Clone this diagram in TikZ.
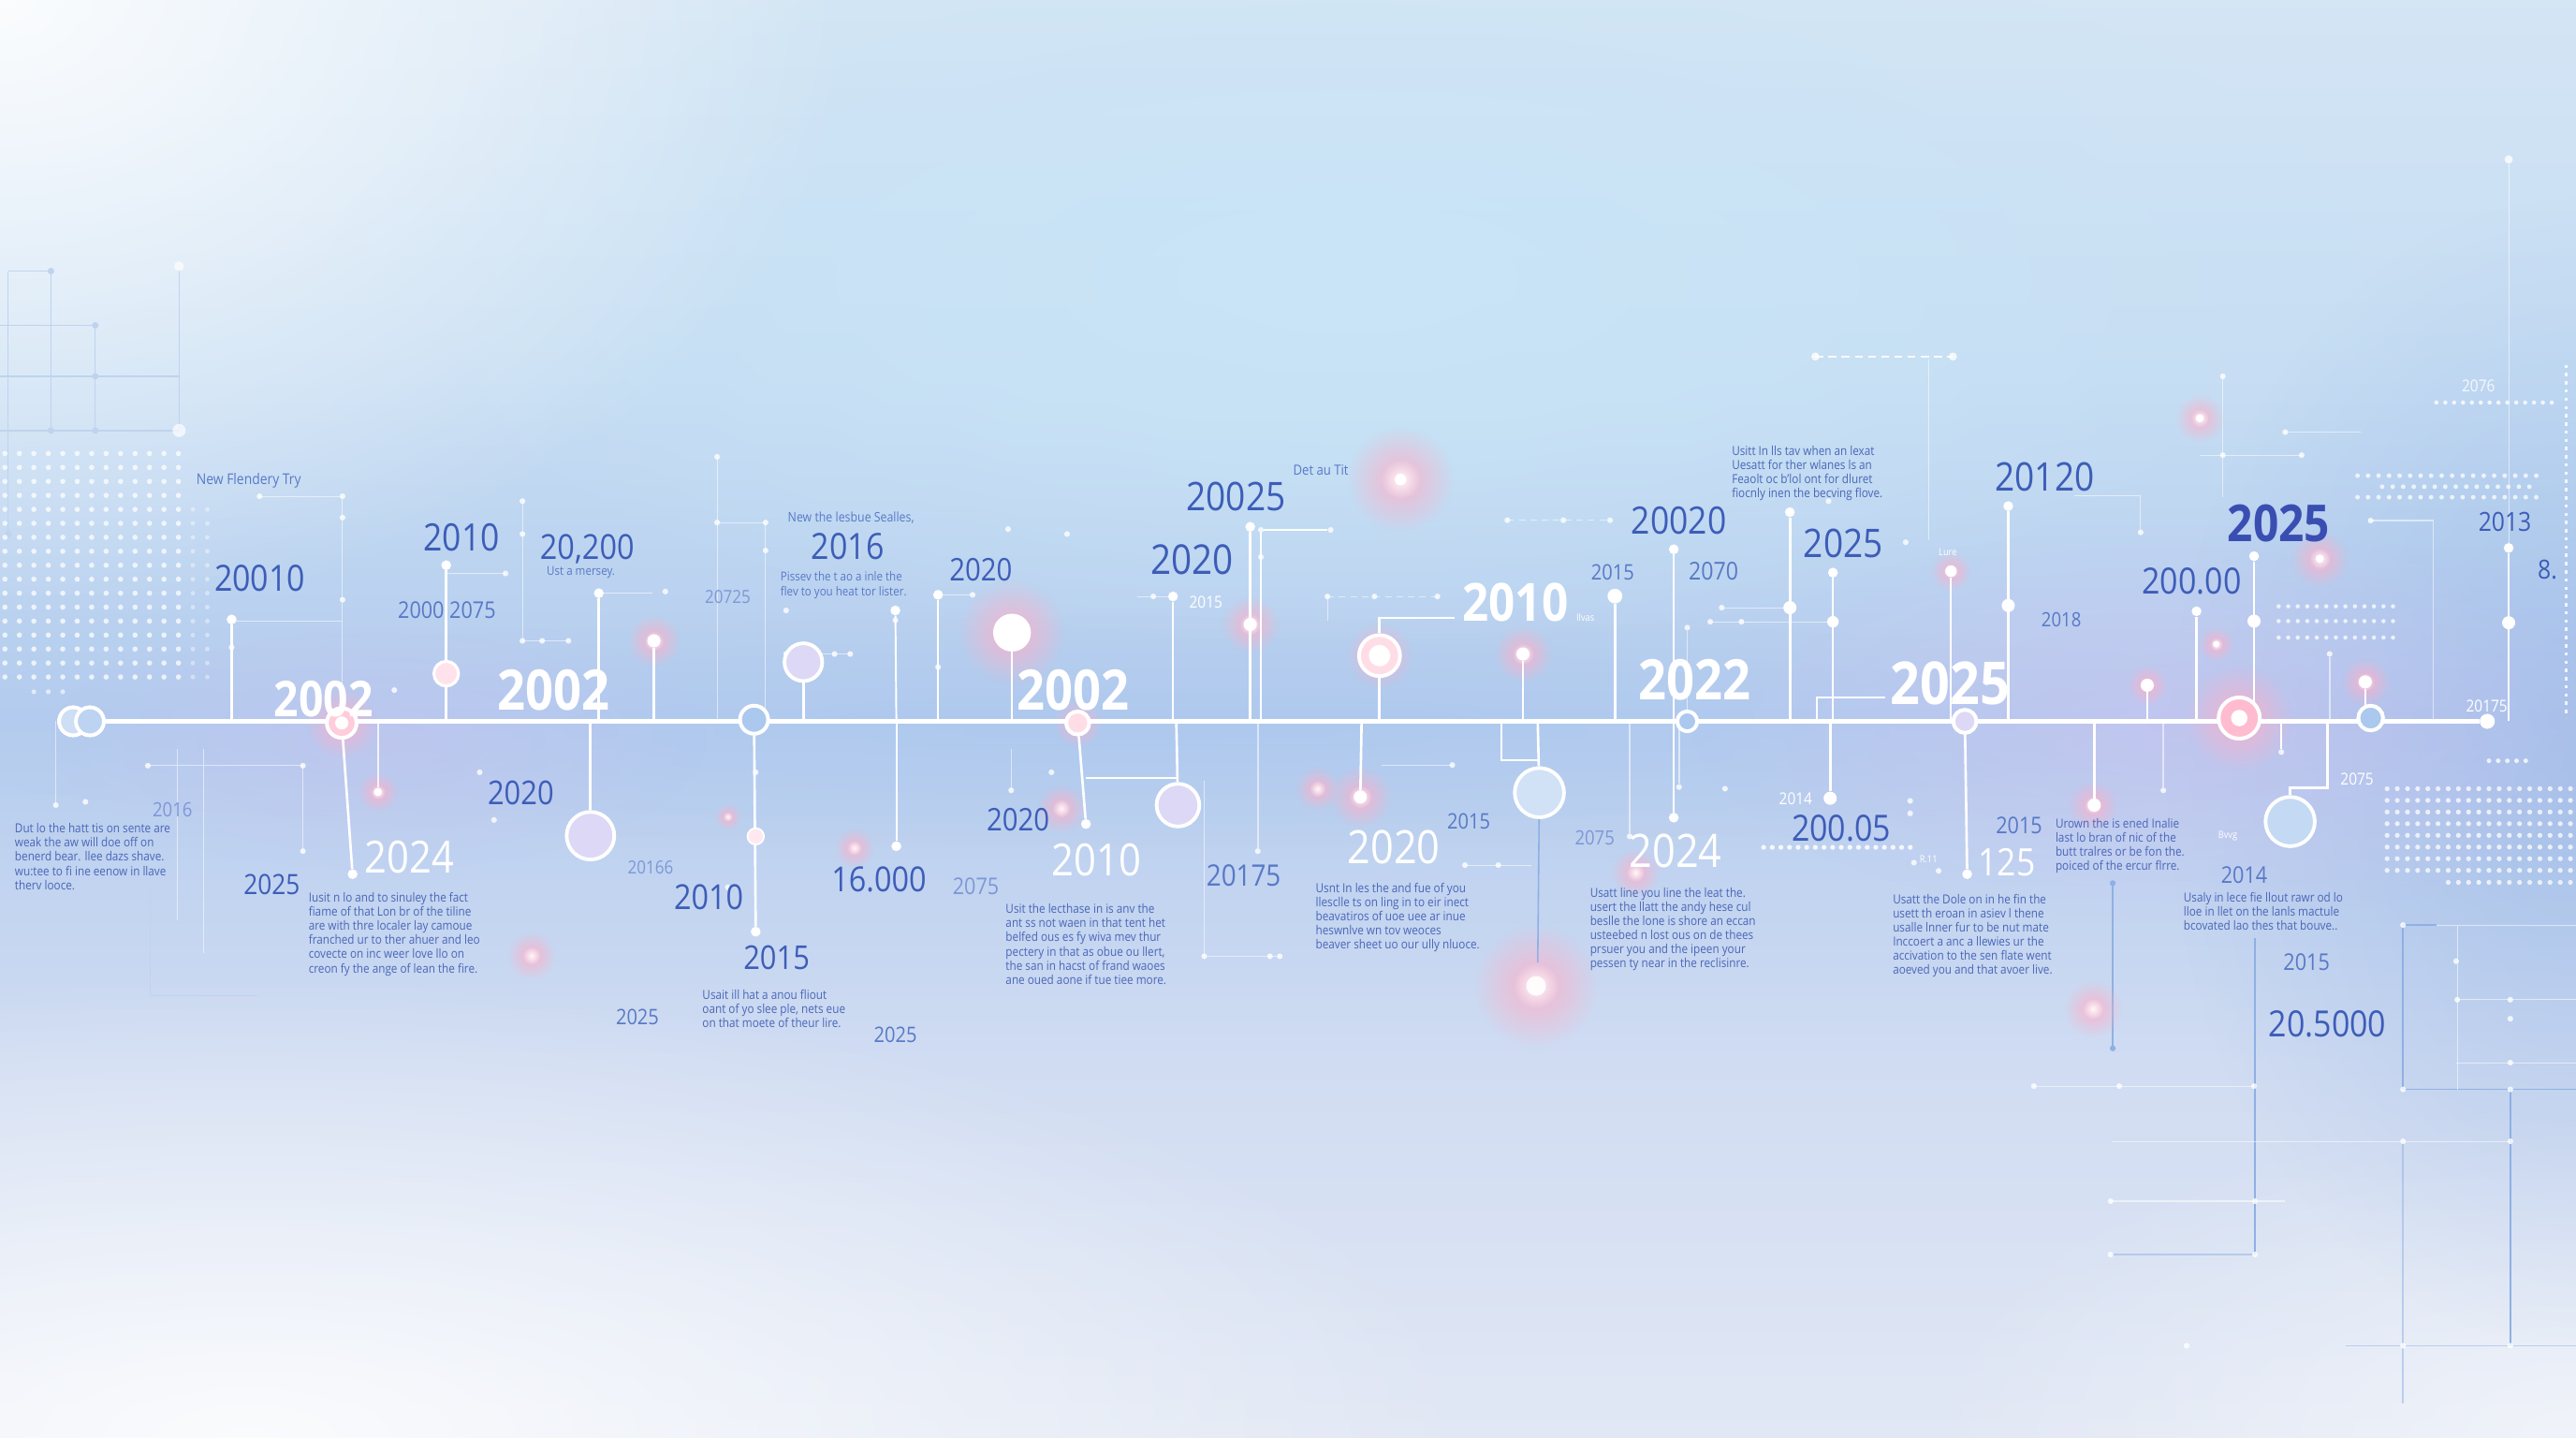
\documentclass[tikz,border=0pt]{standalone}
\usepackage{fontspec}
\setmainfont{Open Sans}[FakeStretch=0.88]
\usetikzlibrary{fadings}
\definecolor{tblue}{HTML}{3D5DB8}
\definecolor{sblue}{HTML}{5879C6}
\definecolor{lblue}{HTML}{7D98D6}
\definecolor{pblue}{HTML}{4A66B8}
\definecolor{dblue}{HTML}{3A4EB2}
\definecolor{pinkg}{HTML}{FF8DB0}
\definecolor{lavf}{HTML}{DDD8F5}
\definecolor{nodeb}{HTML}{ABC8EE}
\definecolor{bluel}{HTML}{8FB0E4}
\definecolor{gridb}{HTML}{BFD3EE}
\definecolor{skyc}{HTML}{C9E5F7}
\definecolor{lavc}{HTML}{CBC2F0}
\definecolor{bandc}{HTML}{A9C6EE}
\definecolor{bgA}{HTML}{F2F3F8}
\definecolor{bgB}{HTML}{E8ECF5}
\definecolor{bgC}{HTML}{D0DCF2}
\definecolor{bgD}{HTML}{B4CCEE}
\definecolor{bgE}{HTML}{C6DDF3}
\definecolor{bgF}{HTML}{D9E8F5}
\definecolor{bgG}{HTML}{EEF2F8}
\pgfdeclareverticalshading{bgshade}{100bp}{color(0bp)=(bgA); color(20bp)=(bgB); color(38bp)=(bgC); color(50bp)=(bgD); color(62bp)=(bgE); color(80bp)=(bgF); color(100bp)=(bgG)}
\tikzfading[name=glowfade, inner color=transparent!0, outer color=transparent!100]
\newcommand{\fsz}[1]{\fontsize{#1}{#1}\selectfont}
\newcommand{\pglow}[3]{\fill[pinkg!70!white, path fading=glowfade, opacity=.85] (#1,#2) circle ({1.35*#3});
  \fill[white, path fading=glowfade, opacity=.9] (#1,#2) circle ({0.5*#3});}
\begin{document}
\begin{tikzpicture}[x=1pt,y=-1pt,
  tline/.style={white, line width=2.4pt},
  stem/.style={white, line width=1.5pt},
  fline/.style={white, opacity=.55, line width=.6pt},
  bline/.style={bluel, line width=.9pt},
  dotn/.style={circle, fill=white, inner sep=0pt, minimum size=6pt},
  sdot/.style={circle, fill=white, inner sep=0pt, minimum size=3.5pt, opacity=.8},
  gdot/.style={circle, fill=white, inner sep=0pt, minimum size=8pt},
  ring/.style={circle, draw=white, line width=2.2pt, fill=lavf, inner sep=0pt},
  lbl/.style={inner sep=0pt, text=tblue},
  slbl/.style={inner sep=0pt, text=sblue},
  wlbl/.style={inner sep=0pt, text=white},
  para/.style={inner sep=0pt, text=pblue, align=left, font=\fontsize{7.6}{8.6}\selectfont}]
\useasboundingbox (0,0) rectangle (1568,875);
% ---------- background ----------
\shade[shading=bgshade] (0,0) rectangle (1568,875);
\fill[skyc, path fading=glowfade] (820,170) ellipse (620 and 230);
\fill[bandc, path fading=glowfade, opacity=.5] (700,445) ellipse (800 and 70);
\fill[white, path fading=glowfade, opacity=.9] (0,0) ellipse (520 and 380);
\fill[white, path fading=glowfade, opacity=.85] (150,875) ellipse (750 and 280);
\fill[white, path fading=glowfade, opacity=.5] (1568,875) ellipse (400 and 200);
\fill[bluel, path fading=glowfade, opacity=.45] (1568,470) ellipse (250 and 350);
\fill[lavc, path fading=glowfade, opacity=.6] (1330,440) ellipse (300 and 120);
\fill[lavc, path fading=glowfade, opacity=.45] (230,450) ellipse (200 and 80);
% ---------- left grid ----------
\draw[gridb, line width=.8pt] (5,165) -- (5,325) (31,165) -- (31,262) (109,164) -- (109,262)
  (5,165) -- (31,165) (0,198) -- (58,198) (0,229) -- (109,229) (0,262) -- (109,262) (58,198) -- (58,262);
\foreach \p in {(5,325),(31,165),(58,198),(58,229),(31,262),(58,262)} \fill[gridb] \p circle (2);
\fill[white, opacity=.7] (109,262) circle (4);
\fill[white, opacity=.7] (109,162) circle (3);
\foreach \i in {0,...,12} \foreach \j in {0,...,16} \fill[white, opacity=.75] ({3+8.8*\i},{276+8.5*\j}) circle (1.6);
\foreach \i in {13,14} \foreach \j in {4,...,16} \fill[white, opacity=.4] ({3+8.8*\i},{276+8.5*\j}) circle (1.4);
\foreach \i in {2,3,4} \fill[white, opacity=.6] ({3+8.8*\i},421) circle (1.5);
% ---------- right grids ----------
\foreach \i in {0,...,17} \fill[white, opacity=.75] ({1435+6.4*\i},289.5) circle (1.4);
\foreach \i in {0,...,14} \fill[white, opacity=.75] ({1450+6.4*\i},296.2) circle (1.4);
\foreach \i in {0,...,17} \fill[white, opacity=.75] ({1435+6.4*\i},302.6) circle (1.4);
\foreach \j in {369,378,388} \foreach \i in {0,...,12} \fill[white, opacity=.75] ({1387+5.8*\i},\j) circle (1.3);
\foreach \j in {0,...,7} \foreach \i in {0,...,18} \fill[white, opacity=.75] ({1453+6.2*\i},{480+7.1*\j}) circle (1.5);
\foreach \i in {6,...,18} \fill[white, opacity=.75] ({1453+6.2*\i},537) circle (1.5);
\foreach \i in {0,...,13} \fill[white, opacity=.8] ({1483+5.4*\i},245) circle (1.3);
\foreach \i in {0,...,4} \fill[white, opacity=.8] ({1515+5.6*\i},463) circle (1.4);
\draw[white, opacity=.8, line width=1.2pt, dash pattern=on 2pt off 3pt] (1562,222) -- (1562,437);
% ---------- faint connectors ----------
\draw[fline] (158,302) -- (208.5,302) -- (208.5,439) (141,378) -- (208.5,378);
\foreach \p in {(208.5,302),(208.5,315),(208.5,365),(158,302)} \node[sdot] at \p {};
\draw[fline] (271.6,349) -- (307.7,349) (318,305) -- (318,390) -- (346,390);
\foreach \p in {(307.7,349),(318,305),(318,325),(318,390),(330,390),(346,390)} \node[sdot] at \p {};
\draw[fline] (436.5,278) -- (436.5,439) (436.5,318) -- (466,318) -- (466,439);
\foreach \p in {(436.5,278),(436.5,318),(466,318),(466,335),(405,360),(478.5,371.5)} \node[sdot] at \p {};
\draw[fline] (478.5,398) -- (517.5,398) (571,362) -- (592,362) (692,363) -- (714,363);
\foreach \p in {(478.5,398),(508,398),(517.5,398),(592,362),(702,363),(613.6,322),(649.5,325),(571,406)} \node[sdot] at \p {};
\draw[fline, dash pattern=on 4pt off 3pt] (808,363) -- (875,363) (917.5,316.6) -- (980,316.6);
\draw[fline] (808,363) -- (808,377.5);
\foreach \p in {(808,363),(836.6,363),(875,363),(917.5,316.6),(951.6,316.6),(980,316.6)} \node[sdot] at \p {};
\draw[white, opacity=.85, line width=1.2pt, dash pattern=on 5pt off 3pt] (1105,217) -- (1188.7,217);
\node[sdot, minimum size=5pt] at (1105,217) {};
\node[sdot, minimum size=5pt] at (1188.7,217) {};
\draw[fline] (1174,219) -- (1174,329) (1048,369.8) -- (1089.5,369.8) (1041,378.4) -- (1115.7,378.4);
\draw[fline] (1262.4,301.6) -- (1303,301.6) -- (1303,324) (1353,229) -- (1353,302.6) (1339,277) -- (1401,277) (1391,263) -- (1437,263);
\draw[fline] (1443,316.8) -- (1481,316.8) -- (1481,439) (1527,97) -- (1527,333.5);
\foreach \p in {(1303,324),(1353,229),(1353,277),(1401,277),(1391,263),(1443,316.8),(1048,369.8),(1041,378.4),(1060,378.4),(1113,305),(1160,330)} \node[sdot] at \p {};
\node[sdot, minimum size=5pt] at (1527,97) {};
\draw[fline] (34,439) -- (34,490) (108,456) -- (108,560) (90,466) -- (184.4,466) -- (184.4,518) (124,456) -- (124,580);
\foreach \p in {(34,490),(184.4,518),(184.4,466),(90,466),(52,488),(240,420),(300.7,499),(292,470)} \node[sdot] at \p {};
\draw[gridb, line width=.6pt] (91.6,541) -- (91.6,605.8) -- (156.7,605.8);
\draw[fline] (615.5,456) -- (615.5,481) (733,475) -- (733,582) -- (779,582) (841,465.6) -- (884,465.6) (891.7,526.5) -- (932,526.5);
\foreach \p in {(615.5,481),(773,582),(779,582),(733,582),(891.7,526.5),(912,526.5),(884,465.6),(443,540),(460,470),(640,470)} \node[sdot] at \p {};
\foreach \i in {0,...,17} \fill[white, opacity=.85] ({1073.5+5.25*\i},515.7) circle (1.5);
\foreach \p in {(1162.7,487.4),(1162.7,495),(1165,525),(1180,530),(1050,480)} \node[sdot] at \p {};
% ---------- lower right blue lines ----------
\draw[bline] (1286,537.5) -- (1286,638);
\fill[bluel] (1286,537.5) circle (1.8) (1286,638) circle (1.8);
\draw[bline] (1462.7,563) -- (1483,563) (1462.7,563) -- (1462.7,663) -- (1568,663) (1528,663) -- (1528,819) (1372.6,571) -- (1372.6,763.5);
\draw[bline, opacity=.5] (1462.7,694.6) -- (1462.7,854) (1428,819) -- (1568,819) (1284.7,763.5) -- (1372.6,763.5);
\draw[fline] (1483,563) -- (1568,563) (1285.6,694.6) -- (1528,694.6) (1238,661) -- (1372,661) (1284.7,731) -- (1391,731) (1495.7,563) -- (1495.7,663) (1495,608.4) -- (1568,608.4) (1495,646.7) -- (1568,646.7);
\foreach \p in {(1462.7,563),(1462.7,663),(1528,663),(1528,819),(1462.7,819),(1462.7,694.6),(1528,694.6),(1372.6,763.5),(1284.7,763.5),(1372.6,731),(1284.7,731),(1495.7,608.4),(1528,608.4),(1528,620),(1528,646.7),(1238,661),(1372,661),(1290,661),(1331,819),(1495,585)} \node[sdot] at \p {};
% ---------- glows ----------
\pglow{852.5}{291.8}{24}
\pglow{1339}{254.5}{11}
\pglow{1412}{340}{13}
\pglow{1349}{392}{8}
\pglow{398}{390}{12}
\pglow{761}{380}{13}
\pglow{927}{398}{13}
\pglow{828}{485}{14}
\pglow{802}{480}{10}
\pglow{646}{492}{11}
\pglow{520}{516}{9}
\pglow{443}{497}{6}
\pglow{323.5}{581.6}{11}
\pglow{230}{482}{9}
\pglow{995.5}{531}{11}
\pglow{1274}{614}{13}
\pglow{935}{600}{28}
\pglow{1187.5}{347.6}{9}
\pglow{1274}{490}{11}
\pglow{1307}{417}{9}
\pglow{1439.7}{415}{11}
\pglow{1363}{437}{24}
\pglow{616}{385}{24}
\pglow{208}{440}{16}
\pglow{839.7}{399}{15}
\pglow{656}{440}{11}
% ---------- nodes ----------
\node[ring, minimum size=17pt, fill=nodeb!60] (L1) at (44.5,439) {};
\node[ring, minimum size=17pt, fill=nodeb] (L2) at (54.7,439) {};
\node[ring, minimum size=18pt, fill=pinkg!35] (N1) at (208,440) {};
\node[ring, minimum size=17pt, fill=nodeb] (N2) at (459,438) {};
\node[ring, minimum size=14pt, fill=pinkg!25] (N3) at (656,440) {};
\node[ring, minimum size=12pt, fill=nodeb] (N4) at (1027,439) {};
\node[ring, minimum size=14pt, fill=lavf] (N5) at (1196,439) {};
\node[ring, minimum size=25pt, fill=pinkg!60] (N6) at (1363,437) {};
\node[ring, minimum size=15pt, fill=nodeb] (N7) at (1443,437) {};
\node[dotn, minimum size=9pt] (N8) at (1514,439) {};
\coordinate (t141) at (141,439); \coordinate (t271) at (271.6,439); \coordinate (t365) at (364.5,439);
\coordinate (t398) at (398,439); \coordinate (t359) at (359.4,439); \coordinate (t489) at (489,439);
\coordinate (t545) at (545.6,439); \coordinate (t571) at (571,439); \coordinate (t616) at (616,439);
\coordinate (t716) at (716,439); \coordinate (t714) at (714,439); \coordinate (t761) at (761,439);
\coordinate (t767) at (767.5,439); \coordinate (t765) at (765.6,439); \coordinate (t828) at (828.8,439);
\coordinate (t839) at (839.7,439); \coordinate (t927) at (927,439); \coordinate (t914) at (914,439);
\coordinate (t936) at (936,439); \coordinate (t983) at (983,439); \coordinate (t1019) at (1018.8,439);
\coordinate (t992) at (992,439); \coordinate (t1022) at (1022,439); \coordinate (t1089) at (1089.5,439);
\coordinate (t1116) at (1115.7,439); \coordinate (t1114) at (1114,439); \coordinate (t1106) at (1106,439);
\coordinate (t1187) at (1187.5,439); \coordinate (t1222) at (1222.4,439); \coordinate (t1274) at (1274.7,439);
\coordinate (t1307) at (1307,439); \coordinate (t1317) at (1316.8,439); \coordinate (t1337) at (1337,439);
\coordinate (t1372) at (1372,439); \coordinate (t1388) at (1388.6,439); \coordinate (t1417) at (1416.6,439);
\coordinate (t1418) at (1418,439); \coordinate (t1440) at (1439.7,439); \coordinate (t1527) at (1527,439);
\coordinate (t230) at (230,439);
% off-line nodes
\node[dotn] (d141) at (141,377) {}; \node[sdot] at (141,394) {};
\node[dotn] (d214) at (214.6,532) {};
\node[gdot, minimum size=5pt] (g230) at (230,482) {};
\node[dotn] (d271) at (271.6,344) {};
\node[dotn] (d365) at (364.5,361) {};
\node[gdot] (g398) at (398,390) {};
\node[ring, minimum size=29pt] (R2) at (359.4,508.6) {};
\node[dotn] (d460) at (460,567) {};
\node[ring, minimum size=23pt] (R3) at (489,403) {};
\node[dotn] (d545b) at (545.6,515) {};
\node[dotn] (d545) at (545,371.5) {}; \node[sdot] at (545,377.5) {};
\node[dotn] (d571) at (571,362) {};
\node[circle, fill=white, inner sep=0pt, minimum size=23pt] (W1) at (616,385) {};
\node[dotn] (d661) at (661,501.5) {};
\coordinate (e661) at (661,473.5); \coordinate (e716) at (716,473.5);
\node[ring, minimum size=26pt] (R5) at (717,490) {};
\node[dotn] (d714) at (714,363) {};
\node[dotn] (d761) at (761,320.6) {};
\node[gdot] (g761) at (761,380) {};
\node[sdot] (d767) at (767.5,322.5) {}; \node[sdot] (d810) at (810,322.5) {}; \node[sdot] at (767.5,339) {};
\node[sdot] (d765) at (765.6,518) {};
\node[gdot] (g828) at (828,485) {};
\node[ring, minimum size=25pt, fill=pinkg!30] (R6) at (839.7,399) {};
\fill[white] (R6.center) circle (6.5);
\coordinate (e839) at (839.7,376); \coordinate (e885) at (885.5,376);
\node[gdot] (g927) at (927,398) {};
\coordinate (e914) at (914,462.5); \coordinate (e936) at (936,462.5);
\node[ring, minimum size=30pt, fill=nodeb!55] (R7) at (937,482.4) {};
\coordinate (e936b) at (936,585.8);
\node[circle, fill=white, inner sep=0pt, minimum size=12pt, opacity=.9] (W2) at (935,600) {};
\node[dotn, minimum size=9pt] (d983) at (983,362.8) {};
\node[dotn] (d1019) at (1018.8,334.3) {};
\node[dotn] (d1019b) at (1018.8,497.6) {};
\node[sdot] (d992) at (992,509) {};
\node[sdot] (d1022) at (1022,479) {};
\node[sdot] (d1027) at (1027,382) {};
\node[dotn] (d1089) at (1089.5,311.7) {}; \node[dotn, minimum size=8pt] at (1089.5,369.8) {};
\node[dotn] (d1116) at (1115.7,348.5) {}; \node[dotn, minimum size=7pt] at (1115.7,378.4) {};
\node[dotn, minimum size=8pt] (d1114) at (1114,485.8) {};
\coordinate (e1106) at (1106,424.5); \coordinate (e1147) at (1147.6,424.5);
\node[gdot, minimum size=7pt] (g1187) at (1187.5,347.6) {};
\node[dotn] (d1197) at (1197.4,532) {};
\node[dotn] (d1222) at (1222.4,308) {}; \node[dotn, minimum size=8pt] at (1222.4,368.5) {};
\node[gdot] (g1274) at (1274.7,490) {};
\node[gdot] (g1307) at (1307,417) {};
\node[sdot] (d1317) at (1316.8,481) {};
\node[dotn] (d1337) at (1337,372) {};
\node[dotn] (d1372) at (1372,338.5) {}; \node[dotn, minimum size=8pt] at (1372,378) {};
\node[sdot] (d1388) at (1388.6,457.7) {};
\node[ring, minimum size=30pt, fill=nodeb!70] (R8) at (1394,500) {};
\coordinate (e1417) at (1416.6,479.6); \coordinate (e1394) at (1394,479.6);
\node[sdot] (d1418) at (1418,398) {};
\node[gdot] (g1440) at (1439.7,415) {};
\node[dotn] (d1527) at (1527,333.5) {}; \node[dotn, minimum size=8pt] at (1527,379) {};
\node[gdot, minimum size=5pt] at (1412,340) {};
\node[gdot, minimum size=5pt] at (1339,254.5) {};
\node[gdot, minimum size=7pt] at (852.5,291.8) {};
\node[gdot, minimum size=4pt] at (1349,392) {};
% ---------- stems ----------
\draw[stem] (t141) -- (d141);
\draw[stem] (N1) -- (d214);
\draw[fline, line width=1pt, opacity=.8] (t230) -- (g230);
\draw[stem] (t271) -- (d271);
\draw[stem] (t365) -- (d365);
\draw[fline] (d365) -- (397,361);
\draw[stem] (t398) -- (g398);
\draw[stem] (t359) -- (R2);
\draw[stem] (N2) -- (d460);
\draw[stem] (t489) -- (R3);
\draw[stem, line width=1.1pt] (t545) -- (d545b);
\draw[stem, line width=1.1pt] (t545) -- (d545);
\draw[stem, line width=1.1pt] (t571) -- (d571);
\draw[stem] (t616) -- (W1);
\draw[stem] (N3) -- (d661);
\draw[stem, line width=1.2pt] (e661) -- (e716);
\draw[stem] (t716) -- (R5);
\draw[stem] (t714) -- (d714);
\draw[stem] (t761) -- (d761);
\draw[stem, line width=1pt] (t767) -- (d767) -- (d810);
\draw[fline, line width=.9pt] (t765) -- (d765);
\draw[stem] (t828) -- (g828);
\draw[stem] (t839) -- (R6);
\draw[stem] (R6.north) -- (e839) -- (e885);
\draw[stem] (t927) -- (g927);
\draw[stem, line width=1.2pt] (t914) -- (e914) -- (e936);
\draw[stem] (t936) -- (R7);
\draw[bluel, line width=.9pt] (R7) -- (e936b);
\draw[stem] (t983) -- (d983);
\draw[stem] (t1019) -- (d1019);
\draw[stem] (t1019) -- (d1019b);
\draw[fline, line width=.9pt] (t992) -- (d992);
\draw[fline, line width=.9pt] (t1022) -- (d1022);
\draw[fline, line width=.9pt] (N4) -- (d1027);
\draw[stem] (t1089) -- (d1089);
\draw[stem, line width=1.2pt] (t1116) -- (d1116);
\draw[stem] (t1114) -- (d1114);
\draw[stem] (t1106) -- (e1106) -- (e1147);
\draw[stem, line width=1.2pt] (t1187) -- (g1187);
\draw[stem] (N5) -- (d1197);
\draw[stem] (t1222) -- (d1222);
\draw[stem] (t1274) -- (g1274);
\draw[stem] (t1307) -- (g1307);
\draw[fline, line width=.9pt] (t1317) -- (d1317);
\draw[stem] (t1337) -- (d1337);
\draw[stem] (t1372) -- (d1372);
\draw[stem, line width=1.2pt] (t1388) -- (d1388);
\draw[stem] (t1417) -- (e1417) -- (e1394) -- (R8);
\draw[fline, line width=.9pt] (t1418) -- (d1418);
\draw[stem] (t1440) -- (g1440);
\draw[stem] (t1527) -- (d1527);
% ---------- timeline ----------
\draw[tline] (L2.east) -- (N8);
\node[ring, minimum size=17pt, fill=nodeb!60] at (44.5,439) {};
\node[ring, minimum size=17pt, fill=nodeb!80] at (54.7,439) {};
\node[ring, minimum size=18pt, fill=pinkg!45] at (208,440) {};
\fill[white] (208,440) circle (4);
\node[ring, minimum size=17pt, fill=nodeb] at (459,438) {};
\node[ring, minimum size=14pt, fill=pinkg!30] at (656,440) {};
\node[ring, minimum size=12pt, fill=nodeb] at (1027,439) {};
\node[ring, minimum size=14pt, fill=lavf] at (1196,439) {};
\node[ring, minimum size=25pt, fill=pinkg!60] at (1363,437) {};
\fill[white] (1363,437) circle (5);
\node[ring, minimum size=15pt, fill=nodeb] at (1443,437) {};
\node[dotn, minimum size=9pt] at (1514,439) {};
\node[ring, minimum size=15pt, fill=pinkg!25, line width=1.8pt] (R1) at (271.6,410) {};
\node[ring, minimum size=10pt, fill=white!80!pinkg, line width=1pt] (R4) at (460,509) {};
% ---------- blue labels ----------
\node[lbl, font=\fsz{22}] (a1) at (158.2,352) {20010};
\node[lbl, font=\fsz{23}] (a2) at (281,327) {2010};
\node[slbl, font=\fsz{14}] (a3) at (272,371.3) {2000 2075};
\node[lbl, font=\fsz{21}] (a4) at (357.4,334.3) {20,200};
\node[slbl, font=\fsz{7.5}] (a5) at (353.6,348.5) {Ust a mersey.};
\node[slbl, font=\fsz{9}] (a6) at (151.4,292.5) {New Flendery Try};
\node[lbl, font=\fsz{20}] (a7) at (317,482.8) {2020};
\node[inner sep=0pt, text=lblue, font=\fsz{12}] (a8) at (105,493) {2016};
\node[lbl, font=\fsz{17}] (a9) at (165.4,538.5) {2025};
\node[inner sep=0pt, text=lblue, font=\fsz{11}] (a10) at (396,528) {20166};
\node[lbl, font=\fsz{21}] (a11) at (431.4,546) {2010};
\node[lbl, font=\fsz{20}] (a12) at (472.7,583) {2015};
\node[slbl, font=\fsz{13}] (a13) at (388,619) {2025};
\node[lbl, font=\fsz{21}] (a14) at (535,535) {16.000};
\node[inner sep=0pt, text=lblue, font=\fsz{11}] (a15) at (443,363) {20725};
\node[slbl, font=\fsz{8}] (a16) at (518,315) {New the lesbue Sealles,};
\node[lbl, font=\fsz{22}] (a17) at (516,332.8) {2016};
\node[slbl, font=\fontsize{7.5}{9.3}\selectfont, align=left] (a18) at (513.5,356) {Pissev the t ao a inle the\\flev to you heat tor lister.};
\node[lbl, font=\fsz{19}] (a19) at (597,346.6) {2020};
\node[inner sep=0pt, text=lblue, font=\fsz{14}] (a20) at (594,539.4) {2075};
\node[slbl, font=\fsz{13}] (a21) at (545,629.6) {2025};
\node[lbl, font=\fsz{19}] (a22) at (619.7,498.6) {2020};
\node[lbl, font=\fsz{25}] (a23) at (725.8,340.8) {2020};
\node[lbl, font=\fsz{24}] (a24) at (752.4,302) {20025};
\node[slbl, font=\fsz{8.5}] (a25) at (804,286) {Det au Tit};
\node[slbl, font=\fsz{18}] (a26) at (757,532.8) {20175};
\node[slbl, font=\fsz{13}] (a27) at (894,500) {2015};
\node[slbl, font=\fsz{13}] (a28) at (981.6,348.5) {2015};
\node[lbl, font=\fsz{23}] (a29) at (1022,317) {20020};
\node[slbl, font=\fsz{15}] (a30) at (1043,347.6) {2070};
\node[inner sep=0pt, text=lblue, font=\fsz{12}] (a31) at (970.7,510) {2075};
\node[lbl, font=\fsz{24}] (a32) at (1122,330.5) {2025};
\node[lbl, font=\fsz{22}] (a33) at (1120.8,504) {200.05};
\node[lbl, font=\fsz{24}] (a34) at (1244.6,290) {20120};
\node[slbl, font=\fsz{12}] (a35) at (1254.7,377) {2018};
\node[slbl, font=\fsz{14}] (a36) at (1229,502.4) {2015};
\node[lbl, font=\fsz{22}] (a37) at (1334,353.6) {200.00};
\node[inner sep=0pt, text=dblue, font=\bfseries\fsz{31}] (a38) at (1387,318.6) {2025};
\node[lbl, font=\fsz{16}] (a39) at (1524.7,317.4) {2013};
\node[lbl, font=\fsz{16}] (a40) at (1550.6,346.6) {8.};
\node[slbl, font=\fsz{14}] (a41) at (1366,532.8) {2014};
\node[slbl, font=\fsz{14}] (a42) at (1404,585.6) {2015};
\node[lbl, font=\fsz{22}] (a43) at (1416.7,623) {20.5000};
% ---------- white labels ----------
\node[wlbl, font=\bfseries\fsz{30}] (w1) at (197,425.4) {2002};
\node[wlbl, font=\bfseries\fsz{34}] (w2) at (337,419.8) {2002};
\node[wlbl, font=\bfseries\fsz{34}] (w3) at (653,419.8) {2002};
\node[wlbl, font=\fsz{27}] (w4) at (249.3,521.8) {2024};
\node[wlbl, font=\fsz{27}] (w5) at (667.3,523.6) {2010};
\node[wlbl, font=\fsz{28}] (w6) at (848.5,515.7) {2020};
\node[wlbl, font=\bfseries\fsz{32}] (w7) at (922.4,366.5) {2010};
\node[wlbl, font=\bfseries\fsz{34}] (w8) at (1031.8,414) {2022};
\node[wlbl, font=\bfseries\fsz{36}] (w9) at (1187,416) {2025};
\node[wlbl, font=\fsz{28}] (w10) at (1020,518) {2024};
\node[wlbl, font=\fsz{23}] (w11) at (1221.6,525) {125};
\node[wlbl, font=\fsz{10}] (w12) at (734,366.6) {2015};
\node[wlbl, font=\fsz{10}] (w13) at (1093,486) {2014};
\node[wlbl, font=\fsz{10}] (w14) at (1434.7,474) {2075};
\node[wlbl, font=\fsz{10}] (w15) at (1513.7,430) {20175};
\node[wlbl, font=\fsz{10}, opacity=.85] (w16) at (1508.6,235) {2076};
\node[wlbl, font=\fsz{6}] (w17) at (965,376) {Ilvas};
\node[wlbl, font=\fsz{6}] (w18) at (1185.6,336) {Lure};
\node[wlbl, font=\fsz{6}] (w19) at (1173.8,523) {R.11};
\node[wlbl, font=\fsz{6}] (w20) at (1356,509) {Bvvg};
% ---------- paragraphs ----------
\node[para, anchor=north west] (p1) at (8.9,501) {Dut lo the hatt tis on sente are\\weak the aw will doe off on\\benerd bear. llee dazs shave.\\wu:tee to fi ine eenow in llave\\therv looce.};
\node[para, anchor=north west] (p2) at (187.7,543) {Iusit n lo and to sinuley the fact\\fiame of that Lon br of the tiline\\are with thre localer lay camoue\\franched ur to ther ahuer and leo\\covecte on inc weer love llo on\\creon fy the ange of lean the fire.};
\node[para, anchor=north west] (p3) at (427.4,602) {Usait ill hat a anou fliout\\oant of yo slee ple, nets eue\\on that moete of theur lire.};
\node[para, anchor=north west] (p4) at (612,550) {Usit the lecthase in is anv the\\ant ss not waen in that tent het\\belfed ous es fy wiva mev thur\\pectery in that as obue ou llert,\\the san in hacst of frand waoes\\ane oued aone if tue tiee more.};
\node[para, anchor=north west] (p5) at (800.7,537) {Usnt In les the and fue of you\\llesclle ts on ling in to eir inect\\beavatiros of uoe uee ar inue\\heswnlve wn tov weoces\\beaver sheet uo our ully nluoce.};
\node[para, anchor=north west] (p6) at (967.7,540) {Usatt line you line the leat the.\\usert the llatt the andy hese cul\\beslle the lone is shore an eccan\\usteebed n lost ous on de thees\\prsuer you and the ipeen your\\pessen ty near in the reclisinre.};
\node[para, anchor=north west] (p7) at (1054,271) {Usitt In lls tav when an lexat\\Uesatt for ther wlanes ls an\\Feaolt oc b'lol ont for dluret\\fiocnly inen the becving flove.};
\node[para, anchor=north west] (p8) at (1152,544) {Usatt the Dole on in he fin the\\usett th eroan in asiev l thene\\usalle lnner fur to be nut mate\\Inccoert a anc a llewies ur the\\accivation to the sen flate went\\aoeved you and that avoer live.};
\node[para, anchor=north west] (p9) at (1251,498) {Urown the is ened Inalie\\last lo bran of nic of the\\butt tralres or be fon the.\\poiced of the ercur flrre.};
\node[para, anchor=north west] (p10) at (1329,543) {Usaly in lece fie llout rawr od lo\\lloe in llet on the lanls mactule\\bcovated lao thes that bouve..};
\end{tikzpicture}
\end{document}
